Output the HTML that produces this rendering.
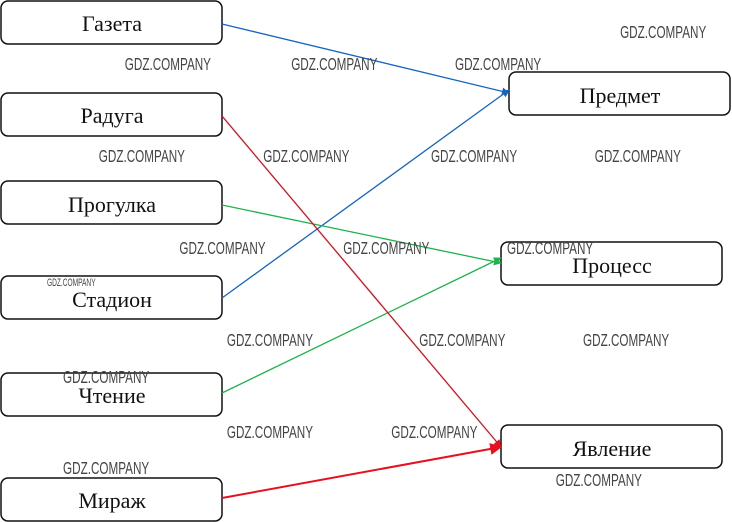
<!DOCTYPE html>
<html><head><meta charset="utf-8"><style>
html,body{margin:0;padding:0;background:#fff;width:732px;height:522px;overflow:hidden}
svg{display:block}
.b{fill:#fff;stroke:#111;stroke-width:1.5}
.t{font-family:"Liberation Serif",serif;font-size:22px;fill:#111;text-anchor:middle}
.w{font-family:"Liberation Sans",sans-serif;font-size:18px;fill:#444}
</style></head><body>
<svg width="732" height="522" viewBox="0 0 732 522">
<defs>
<marker id="ab" viewBox="0 0 10 10" refX="9" refY="5" markerWidth="6" markerHeight="6" orient="auto"><path d="M0,0L10,5L0,10z" fill="#1565c0"/></marker>
<marker id="ag" viewBox="0 0 10 10" refX="9" refY="5" markerWidth="6" markerHeight="6" orient="auto"><path d="M0,0L10,5L0,10z" fill="#1db34a"/></marker>
<marker id="ar" viewBox="0 0 10 10" refX="9" refY="5" markerWidth="6" markerHeight="6" orient="auto"><path d="M0,0L10,5L0,10z" fill="#e8101e"/></marker>
</defs>
<rect class="b" x="1" y="1" width="221" height="43" rx="7"/>
<rect class="b" x="1" y="93" width="221" height="43" rx="7"/>
<rect class="b" x="1" y="181" width="221" height="43" rx="7"/>
<rect class="b" x="1" y="276" width="221" height="43" rx="7"/>
<rect class="b" x="1" y="373" width="221" height="43" rx="7"/>
<rect class="b" x="1" y="478" width="221" height="43" rx="7"/>
<rect class="b" x="509" y="72" width="221" height="43" rx="7"/>
<rect class="b" x="501" y="242" width="221" height="43" rx="7"/>
<rect class="b" x="501" y="425" width="221" height="43" rx="7"/>
<text class="t" x="112" y="31">Газета</text>
<text class="t" x="112" y="123">Радуга</text>
<text class="t" x="112" y="212">Прогулка</text>
<text class="t" x="112" y="307">Стадион</text>
<text class="t" x="112" y="403">Чтение</text>
<text class="t" x="112" y="508">Мираж</text>
<text class="t" x="620" y="103">Предмет</text>
<text class="t" x="612" y="273">Процесс</text>
<text class="t" x="612" y="456">Явление</text>
<g fill="none" stroke-width="1.3">
<line x1="222" y1="24" x2="509" y2="93" stroke="#1565c0" marker-end="url(#ab)"/>
<line x1="222" y1="298" x2="509" y2="90" stroke="#1565c0" marker-end="url(#ab)"/>
<line x1="222" y1="205" x2="501" y2="263" stroke="#1db34a" marker-end="url(#ag)"/>
<line x1="222" y1="393" x2="501" y2="258" stroke="#1db34a" marker-end="url(#ag)"/>
<line x1="222" y1="116" x2="501" y2="447" stroke="#d8101e" marker-end="url(#ar)"/>
<line x1="222" y1="498" x2="501" y2="447" stroke="#e8101e" stroke-width="2" marker-end="url(#ar)"/>
</g>
<g class="w" transform="scale(0.65,1)">
<text x="954" y="38">GDZ.COMPANY</text>
<text x="192" y="70">GDZ.COMPANY</text>
<text x="448" y="70">GDZ.COMPANY</text>
<text x="700" y="70">GDZ.COMPANY</text>
<text x="152" y="162">GDZ.COMPANY</text>
<text x="405" y="162">GDZ.COMPANY</text>
<text x="663" y="162">GDZ.COMPANY</text>
<text x="915" y="162">GDZ.COMPANY</text>
<text x="276" y="254">GDZ.COMPANY</text>
<text x="528" y="254">GDZ.COMPANY</text>
<text x="780" y="254">GDZ.COMPANY</text>
<text x="349" y="346">GDZ.COMPANY</text>
<text x="645" y="346">GDZ.COMPANY</text>
<text x="897" y="346">GDZ.COMPANY</text>
<text x="97" y="383">GDZ.COMPANY</text>
<text x="349" y="438">GDZ.COMPANY</text>
<text x="602" y="438">GDZ.COMPANY</text>
<text x="97" y="474">GDZ.COMPANY</text>
<text x="855" y="486">GDZ.COMPANY</text>
</g>
<text x="47" y="286" font-family="Liberation Sans,sans-serif" font-size="11" fill="#444" transform="translate(47,0) scale(0.6,1) translate(-47,0)">GDZ.COMPANY</text>
</svg>
</body></html>
